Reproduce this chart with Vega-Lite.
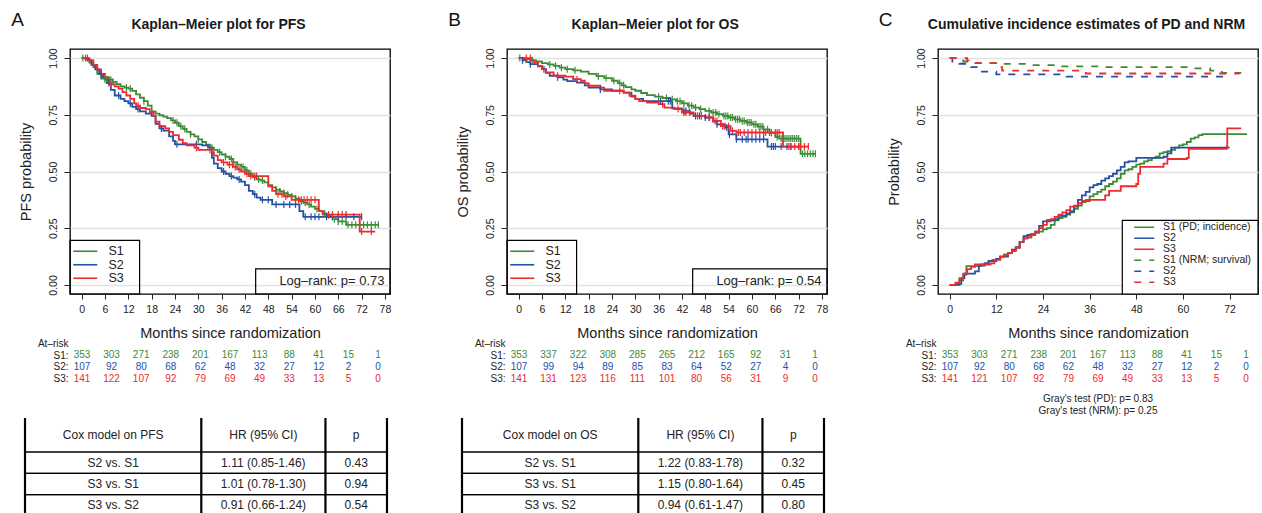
{
  "$schema": "https://vega.github.io/schema/vega-lite/v6.json",
  "padding": {"left": 10, "top": 10, "right": 4, "bottom": 4},
  "columns": 3,
  "spacing": {"row": 32.5, "column": 111},
  "bounds": "flush",
  "align": "each",
  "resolve": {
    "scale": {"x": "independent", "y": "independent", "color": "independent", "strokeDash": "independent"},
    "axis": {"x": "independent", "y": "independent"},
    "legend": {"color": "independent", "strokeDash": "independent"}
  },
  "config": {
    "font": "Liberation Sans",
    "view": {"stroke": "black", "strokeWidth": 1.3},
    "axis": {"labelFont": "Liberation Sans", "titleFont": "Liberation Sans", "labelFontSize": 10.5, "titleFontSize": 14.5, "titleFontWeight": "normal", "labelColor": "#222", "titleColor": "#222", "tickColor": "#222", "domain": false, "labelOverlap": false},
    "legend": {"labelFont": "Liberation Sans"},
    "title": {"font": "Liberation Sans", "color": "#1a1a1a"},
    "text": {"font": "Liberation Sans"}
  },
  "datasets": {
    "pfs": [
      {"g":"S1","t":0,"s":1},{"g":"S1","t":1,"s":0.995},{"g":"S1","t":2,"s":0.98},{"g":"S1","t":3,"s":0.96},{"g":"S1","t":4,"s":0.93},{"g":"S1","t":5,"s":0.91},{"g":"S1","t":6,"s":0.905},{"g":"S1","t":8,"s":0.895},{"g":"S1","t":9,"s":0.885},{"g":"S1","t":10,"s":0.875},{"g":"S1","t":11,"s":0.87},{"g":"S1","t":12,"s":0.865},{"g":"S1","t":13,"s":0.855},{"g":"S1","t":14,"s":0.84},{"g":"S1","t":15,"s":0.825},{"g":"S1","t":16,"s":0.81},{"g":"S1","t":17,"s":0.79},{"g":"S1","t":18,"s":0.765},{"g":"S1","t":19,"s":0.755},{"g":"S1","t":20,"s":0.748},{"g":"S1","t":21,"s":0.742},{"g":"S1","t":22,"s":0.735},{"g":"S1","t":23,"s":0.725},{"g":"S1","t":24,"s":0.715},{"g":"S1","t":25,"s":0.7},{"g":"S1","t":26,"s":0.688},{"g":"S1","t":27,"s":0.675},{"g":"S1","t":28,"s":0.664},{"g":"S1","t":29,"s":0.655},{"g":"S1","t":30,"s":0.642},{"g":"S1","t":31,"s":0.63},{"g":"S1","t":32,"s":0.618},{"g":"S1","t":33,"s":0.605},{"g":"S1","t":34,"s":0.595},{"g":"S1","t":35,"s":0.585},{"g":"S1","t":36,"s":0.575},{"g":"S1","t":37,"s":0.565},{"g":"S1","t":38,"s":0.555},{"g":"S1","t":39,"s":0.54},{"g":"S1","t":40,"s":0.53},{"g":"S1","t":41,"s":0.52},{"g":"S1","t":42,"s":0.505},{"g":"S1","t":43,"s":0.49},{"g":"S1","t":44,"s":0.475},{"g":"S1","t":45,"s":0.465},{"g":"S1","t":46,"s":0.46},{"g":"S1","t":47,"s":0.452},{"g":"S1","t":48,"s":0.44},{"g":"S1","t":49,"s":0.43},{"g":"S1","t":50,"s":0.42},{"g":"S1","t":51,"s":0.412},{"g":"S1","t":52,"s":0.405},{"g":"S1","t":53,"s":0.397},{"g":"S1","t":54,"s":0.39},{"g":"S1","t":55,"s":0.38},{"g":"S1","t":56,"s":0.37},{"g":"S1","t":57,"s":0.362},{"g":"S1","t":58,"s":0.355},{"g":"S1","t":59,"s":0.345},{"g":"S1","t":60,"s":0.335},{"g":"S1","t":61,"s":0.325},{"g":"S1","t":62,"s":0.315},{"g":"S1","t":63,"s":0.307},{"g":"S1","t":64,"s":0.3},{"g":"S1","t":65,"s":0.29},{"g":"S1","t":66,"s":0.28},{"g":"S1","t":68,"s":0.265},{"g":"S1","t":76.5,"s":0.265},
      {"g":"S2","t":0,"s":1},{"g":"S2","t":1.5,"s":0.99},{"g":"S2","t":2.5,"s":0.97},{"g":"S2","t":3.5,"s":0.95},{"g":"S2","t":4.5,"s":0.93},{"g":"S2","t":5.5,"s":0.915},{"g":"S2","t":6.5,"s":0.89},{"g":"S2","t":7.5,"s":0.86},{"g":"S2","t":8.5,"s":0.835},{"g":"S2","t":10,"s":0.82},{"g":"S2","t":11,"s":0.81},{"g":"S2","t":12,"s":0.8},{"g":"S2","t":13,"s":0.785},{"g":"S2","t":14,"s":0.775},{"g":"S2","t":15,"s":0.765},{"g":"S2","t":16.5,"s":0.755},{"g":"S2","t":18,"s":0.745},{"g":"S2","t":19,"s":0.71},{"g":"S2","t":20,"s":0.69},{"g":"S2","t":21,"s":0.68},{"g":"S2","t":22.5,"s":0.655},{"g":"S2","t":23.5,"s":0.635},{"g":"S2","t":24,"s":0.62},{"g":"S2","t":31,"s":0.615},{"g":"S2","t":32.5,"s":0.605},{"g":"S2","t":33.5,"s":0.56},{"g":"S2","t":34,"s":0.535},{"g":"S2","t":35,"s":0.515},{"g":"S2","t":36,"s":0.5},{"g":"S2","t":37,"s":0.49},{"g":"S2","t":38,"s":0.48},{"g":"S2","t":39,"s":0.473},{"g":"S2","t":40,"s":0.465},{"g":"S2","t":41,"s":0.455},{"g":"S2","t":42,"s":0.44},{"g":"S2","t":43,"s":0.415},{"g":"S2","t":44,"s":0.4},{"g":"S2","t":45,"s":0.385},{"g":"S2","t":46,"s":0.375},{"g":"S2","t":49,"s":0.355},{"g":"S2","t":56,"s":0.325},{"g":"S2","t":57,"s":0.3},{"g":"S2","t":72,"s":0.3},
      {"g":"S3","t":0,"s":1},{"g":"S3","t":2,"s":0.99},{"g":"S3","t":3,"s":0.97},{"g":"S3","t":4,"s":0.95},{"g":"S3","t":5,"s":0.93},{"g":"S3","t":6,"s":0.915},{"g":"S3","t":7,"s":0.885},{"g":"S3","t":8.5,"s":0.875},{"g":"S3","t":9.5,"s":0.865},{"g":"S3","t":10.5,"s":0.85},{"g":"S3","t":11.5,"s":0.835},{"g":"S3","t":12.5,"s":0.82},{"g":"S3","t":13.5,"s":0.8},{"g":"S3","t":14,"s":0.79},{"g":"S3","t":15,"s":0.78},{"g":"S3","t":16.5,"s":0.775},{"g":"S3","t":17.5,"s":0.76},{"g":"S3","t":18.5,"s":0.745},{"g":"S3","t":19,"s":0.72},{"g":"S3","t":20,"s":0.7},{"g":"S3","t":21.5,"s":0.69},{"g":"S3","t":22.5,"s":0.675},{"g":"S3","t":23.5,"s":0.66},{"g":"S3","t":25,"s":0.64},{"g":"S3","t":26,"s":0.625},{"g":"S3","t":27,"s":0.615},{"g":"S3","t":29,"s":0.605},{"g":"S3","t":30,"s":0.595},{"g":"S3","t":33.5,"s":0.585},{"g":"S3","t":34,"s":0.57},{"g":"S3","t":35,"s":0.55},{"g":"S3","t":36,"s":0.54},{"g":"S3","t":37.5,"s":0.53},{"g":"S3","t":39,"s":0.52},{"g":"S3","t":40,"s":0.51},{"g":"S3","t":41,"s":0.5},{"g":"S3","t":42,"s":0.49},{"g":"S3","t":43,"s":0.48},{"g":"S3","t":48,"s":0.435},{"g":"S3","t":49,"s":0.415},{"g":"S3","t":50,"s":0.4},{"g":"S3","t":52,"s":0.39},{"g":"S3","t":54,"s":0.375},{"g":"S3","t":61,"s":0.325},{"g":"S3","t":62,"s":0.31},{"g":"S3","t":71.5,"s":0.235},{"g":"S3","t":75.5,"s":0.235}
    ],
    "pfs_cens": [
      {"g":"S1","t":0.3,"s":1},{"g":"S1","t":6,"s":0.905},{"g":"S1","t":6.5,"s":0.905},{"g":"S1","t":7,"s":0.905},{"g":"S1","t":7.5,"s":0.905},{"g":"S1","t":8,"s":0.895},{"g":"S1","t":11.5,"s":0.87},{"g":"S1","t":12.5,"s":0.865},{"g":"S1","t":16,"s":0.81},{"g":"S1","t":23.5,"s":0.725},{"g":"S1","t":24.5,"s":0.715},{"g":"S1","t":25.5,"s":0.7},{"g":"S1","t":26.5,"s":0.688},{"g":"S1","t":28,"s":0.664},{"g":"S1","t":30,"s":0.642},{"g":"S1","t":33.5,"s":0.605},{"g":"S1","t":35.5,"s":0.585},{"g":"S1","t":37,"s":0.565},{"g":"S1","t":38.5,"s":0.555},{"g":"S1","t":40,"s":0.53},{"g":"S1","t":41.5,"s":0.52},{"g":"S1","t":42.5,"s":0.505},{"g":"S1","t":43.5,"s":0.49},{"g":"S1","t":44.5,"s":0.475},{"g":"S1","t":45.5,"s":0.465},{"g":"S1","t":46.5,"s":0.46},{"g":"S1","t":50,"s":0.42},{"g":"S1","t":51,"s":0.412},{"g":"S1","t":52,"s":0.405},{"g":"S1","t":53,"s":0.397},{"g":"S1","t":54,"s":0.39},{"g":"S1","t":55,"s":0.38},{"g":"S1","t":56.5,"s":0.37},{"g":"S1","t":57.5,"s":0.362},{"g":"S1","t":58.5,"s":0.355},{"g":"S1","t":60.5,"s":0.335},{"g":"S1","t":62.5,"s":0.315},{"g":"S1","t":63.5,"s":0.307},{"g":"S1","t":64.5,"s":0.3},{"g":"S1","t":65,"s":0.29},{"g":"S1","t":66,"s":0.28},{"g":"S1","t":67,"s":0.28},{"g":"S1","t":68.5,"s":0.265},{"g":"S1","t":69.5,"s":0.265},{"g":"S1","t":70.5,"s":0.265},{"g":"S1","t":71.5,"s":0.265},{"g":"S1","t":72.5,"s":0.265},{"g":"S1","t":73.5,"s":0.265},{"g":"S1","t":74.5,"s":0.265},{"g":"S1","t":75.5,"s":0.265},{"g":"S1","t":76.3,"s":0.265},
      {"g":"S2","t":5,"s":0.93},{"g":"S2","t":7,"s":0.89},{"g":"S2","t":9.5,"s":0.835},{"g":"S2","t":12.5,"s":0.8},{"g":"S2","t":14.5,"s":0.775},{"g":"S2","t":20.5,"s":0.69},{"g":"S2","t":24.5,"s":0.62},{"g":"S2","t":29.5,"s":0.62},{"g":"S2","t":36.5,"s":0.5},{"g":"S2","t":38.5,"s":0.48},{"g":"S2","t":40.5,"s":0.465},{"g":"S2","t":44.5,"s":0.4},{"g":"S2","t":46.5,"s":0.375},{"g":"S2","t":48,"s":0.375},{"g":"S2","t":50,"s":0.355},{"g":"S2","t":52,"s":0.355},{"g":"S2","t":53.5,"s":0.355},{"g":"S2","t":55,"s":0.355},{"g":"S2","t":57.5,"s":0.3},{"g":"S2","t":59,"s":0.3},{"g":"S2","t":60,"s":0.3},{"g":"S2","t":61,"s":0.3},{"g":"S2","t":63,"s":0.3},{"g":"S2","t":64.5,"s":0.3},{"g":"S2","t":66,"s":0.3},{"g":"S2","t":68,"s":0.3},{"g":"S2","t":70,"s":0.3},{"g":"S2","t":72,"s":0.3},
      {"g":"S3","t":1,"s":1},{"g":"S3","t":1.5,"s":1},{"g":"S3","t":7.5,"s":0.885},{"g":"S3","t":14.5,"s":0.79},{"g":"S3","t":29.5,"s":0.605},{"g":"S3","t":33,"s":0.595},{"g":"S3","t":36.5,"s":0.54},{"g":"S3","t":38,"s":0.53},{"g":"S3","t":38.8,"s":0.53},{"g":"S3","t":39.5,"s":0.52},{"g":"S3","t":40.5,"s":0.51},{"g":"S3","t":42.5,"s":0.49},{"g":"S3","t":43.5,"s":0.48},{"g":"S3","t":44.5,"s":0.48},{"g":"S3","t":45,"s":0.48},{"g":"S3","t":50.5,"s":0.4},{"g":"S3","t":51.5,"s":0.4},{"g":"S3","t":52.5,"s":0.39},{"g":"S3","t":55,"s":0.375},{"g":"S3","t":55.8,"s":0.375},{"g":"S3","t":56.5,"s":0.375},{"g":"S3","t":57.2,"s":0.375},{"g":"S3","t":58,"s":0.375},{"g":"S3","t":59,"s":0.375},{"g":"S3","t":60,"s":0.375},{"g":"S3","t":63.5,"s":0.31},{"g":"S3","t":64.5,"s":0.31},{"g":"S3","t":66,"s":0.31},{"g":"S3","t":67,"s":0.31},{"g":"S3","t":68,"s":0.31},{"g":"S3","t":72,"s":0.235},{"g":"S3","t":74.5,"s":0.235}
    ],
    "os": [
      {"g":"S1","t":0,"s":1},{"g":"S1","t":1.5,"s":0.995},{"g":"S1","t":3,"s":0.99},{"g":"S1","t":4.5,"s":0.985},{"g":"S1","t":6,"s":0.978},{"g":"S1","t":7.5,"s":0.972},{"g":"S1","t":9,"s":0.966},{"g":"S1","t":10.5,"s":0.958},{"g":"S1","t":12,"s":0.951},{"g":"S1","t":14,"s":0.946},{"g":"S1","t":16,"s":0.94},{"g":"S1","t":18,"s":0.93},{"g":"S1","t":20,"s":0.92},{"g":"S1","t":22,"s":0.912},{"g":"S1","t":24,"s":0.9},{"g":"S1","t":25.5,"s":0.89},{"g":"S1","t":26.5,"s":0.88},{"g":"S1","t":27.5,"s":0.872},{"g":"S1","t":29,"s":0.862},{"g":"S1","t":30,"s":0.856},{"g":"S1","t":31.5,"s":0.846},{"g":"S1","t":33,"s":0.837},{"g":"S1","t":35,"s":0.83},{"g":"S1","t":37,"s":0.824},{"g":"S1","t":39,"s":0.818},{"g":"S1","t":40.5,"s":0.81},{"g":"S1","t":42,"s":0.8},{"g":"S1","t":43.5,"s":0.79},{"g":"S1","t":45,"s":0.782},{"g":"S1","t":46.5,"s":0.775},{"g":"S1","t":48,"s":0.767},{"g":"S1","t":49.5,"s":0.76},{"g":"S1","t":51,"s":0.753},{"g":"S1","t":52.5,"s":0.745},{"g":"S1","t":54,"s":0.738},{"g":"S1","t":55.5,"s":0.73},{"g":"S1","t":57,"s":0.723},{"g":"S1","t":58.5,"s":0.716},{"g":"S1","t":60,"s":0.708},{"g":"S1","t":61.5,"s":0.698},{"g":"S1","t":63,"s":0.686},{"g":"S1","t":64.5,"s":0.67},{"g":"S1","t":66,"s":0.652},{"g":"S1","t":67,"s":0.645},{"g":"S1","t":72.5,"s":0.578},{"g":"S1","t":76.5,"s":0.578},
      {"g":"S2","t":0,"s":1},{"g":"S2","t":1,"s":0.99},{"g":"S2","t":2,"s":0.982},{"g":"S2","t":3,"s":0.973},{"g":"S2","t":5,"s":0.963},{"g":"S2","t":6,"s":0.951},{"g":"S2","t":7,"s":0.935},{"g":"S2","t":8,"s":0.922},{"g":"S2","t":10,"s":0.915},{"g":"S2","t":11.5,"s":0.905},{"g":"S2","t":12.5,"s":0.898},{"g":"S2","t":15,"s":0.892},{"g":"S2","t":17,"s":0.88},{"g":"S2","t":18,"s":0.87},{"g":"S2","t":21,"s":0.862},{"g":"S2","t":24,"s":0.856},{"g":"S2","t":27,"s":0.848},{"g":"S2","t":29,"s":0.83},{"g":"S2","t":30,"s":0.82},{"g":"S2","t":32,"s":0.81},{"g":"S2","t":39.5,"s":0.778},{"g":"S2","t":42,"s":0.767},{"g":"S2","t":44,"s":0.755},{"g":"S2","t":45,"s":0.745},{"g":"S2","t":48,"s":0.738},{"g":"S2","t":50,"s":0.72},{"g":"S2","t":51,"s":0.708},{"g":"S2","t":53,"s":0.694},{"g":"S2","t":54,"s":0.664},{"g":"S2","t":56,"s":0.642},{"g":"S2","t":64,"s":0.61},{"g":"S2","t":72,"s":0.61},
      {"g":"S3","t":0,"s":1},{"g":"S3","t":3.5,"s":0.99},{"g":"S3","t":4,"s":0.98},{"g":"S3","t":5,"s":0.966},{"g":"S3","t":6,"s":0.951},{"g":"S3","t":7,"s":0.937},{"g":"S3","t":9,"s":0.922},{"g":"S3","t":12,"s":0.918},{"g":"S3","t":14,"s":0.907},{"g":"S3","t":16,"s":0.9},{"g":"S3","t":17,"s":0.89},{"g":"S3","t":18,"s":0.878},{"g":"S3","t":21,"s":0.87},{"g":"S3","t":22,"s":0.856},{"g":"S3","t":27,"s":0.848},{"g":"S3","t":28.5,"s":0.834},{"g":"S3","t":30,"s":0.82},{"g":"S3","t":31,"s":0.81},{"g":"S3","t":33,"s":0.804},{"g":"S3","t":36,"s":0.797},{"g":"S3","t":37.5,"s":0.782},{"g":"S3","t":40,"s":0.775},{"g":"S3","t":42,"s":0.76},{"g":"S3","t":45,"s":0.745},{"g":"S3","t":48,"s":0.738},{"g":"S3","t":50,"s":0.723},{"g":"S3","t":52,"s":0.7},{"g":"S3","t":54.5,"s":0.679},{"g":"S3","t":56,"s":0.672},{"g":"S3","t":68,"s":0.61},{"g":"S3","t":74.5,"s":0.61}
    ],
    "os_cens": [
      {"g":"S1","t":0.3,"s":1},{"g":"S1","t":2,"s":0.995},{"g":"S1","t":3.5,"s":0.99},{"g":"S1","t":8,"s":0.972},{"g":"S1","t":9.5,"s":0.966},{"g":"S1","t":11,"s":0.958},{"g":"S1","t":12.5,"s":0.951},{"g":"S1","t":14.5,"s":0.946},{"g":"S1","t":20.5,"s":0.92},{"g":"S1","t":22.5,"s":0.912},{"g":"S1","t":24.5,"s":0.9},{"g":"S1","t":26,"s":0.89},{"g":"S1","t":27,"s":0.88},{"g":"S1","t":36,"s":0.83},{"g":"S1","t":38,"s":0.824},{"g":"S1","t":39.5,"s":0.818},{"g":"S1","t":40.8,"s":0.81},{"g":"S1","t":41.5,"s":0.81},{"g":"S1","t":42.5,"s":0.8},{"g":"S1","t":43.8,"s":0.79},{"g":"S1","t":44.5,"s":0.79},{"g":"S1","t":45.5,"s":0.782},{"g":"S1","t":46.8,"s":0.775},{"g":"S1","t":49,"s":0.767},{"g":"S1","t":50,"s":0.76},{"g":"S1","t":50.7,"s":0.76},{"g":"S1","t":51.5,"s":0.753},{"g":"S1","t":52.8,"s":0.745},{"g":"S1","t":53.3,"s":0.745},{"g":"S1","t":53.8,"s":0.745},{"g":"S1","t":54.5,"s":0.738},{"g":"S1","t":55,"s":0.738},{"g":"S1","t":55.8,"s":0.73},{"g":"S1","t":56.3,"s":0.73},{"g":"S1","t":56.8,"s":0.73},{"g":"S1","t":57.5,"s":0.723},{"g":"S1","t":58,"s":0.723},{"g":"S1","t":58.8,"s":0.716},{"g":"S1","t":59.3,"s":0.716},{"g":"S1","t":59.8,"s":0.716},{"g":"S1","t":60.5,"s":0.708},{"g":"S1","t":61,"s":0.708},{"g":"S1","t":61.8,"s":0.698},{"g":"S1","t":62.3,"s":0.698},{"g":"S1","t":62.8,"s":0.698},{"g":"S1","t":64,"s":0.686},{"g":"S1","t":65,"s":0.67},{"g":"S1","t":66.5,"s":0.652},{"g":"S1","t":67.5,"s":0.645},{"g":"S1","t":68,"s":0.645},{"g":"S1","t":68.5,"s":0.645},{"g":"S1","t":69,"s":0.645},{"g":"S1","t":69.5,"s":0.645},{"g":"S1","t":70,"s":0.645},{"g":"S1","t":70.5,"s":0.645},{"g":"S1","t":71,"s":0.645},{"g":"S1","t":71.5,"s":0.645},{"g":"S1","t":72,"s":0.645},{"g":"S1","t":73,"s":0.578},{"g":"S1","t":73.6,"s":0.578},{"g":"S1","t":74.3,"s":0.578},{"g":"S1","t":75,"s":0.578},{"g":"S1","t":75.7,"s":0.578},{"g":"S1","t":76.3,"s":0.578},
      {"g":"S2","t":1,"s":0.99},{"g":"S2","t":3,"s":0.973},{"g":"S2","t":6.5,"s":0.951},{"g":"S2","t":10,"s":0.915},{"g":"S2","t":21,"s":0.862},{"g":"S2","t":36.5,"s":0.81},{"g":"S2","t":38.5,"s":0.81},{"g":"S2","t":39,"s":0.81},{"g":"S2","t":42.5,"s":0.767},{"g":"S2","t":43,"s":0.767},{"g":"S2","t":45.5,"s":0.745},{"g":"S2","t":46.5,"s":0.745},{"g":"S2","t":47,"s":0.745},{"g":"S2","t":48,"s":0.738},{"g":"S2","t":49,"s":0.738},{"g":"S2","t":51,"s":0.708},{"g":"S2","t":53.5,"s":0.694},{"g":"S2","t":54.2,"s":0.664},{"g":"S2","t":56,"s":0.642},{"g":"S2","t":57.5,"s":0.642},{"g":"S2","t":58.5,"s":0.642},{"g":"S2","t":59,"s":0.642},{"g":"S2","t":60,"s":0.642},{"g":"S2","t":61,"s":0.642},{"g":"S2","t":62,"s":0.642},{"g":"S2","t":63,"s":0.642},{"g":"S2","t":65,"s":0.61},{"g":"S2","t":65.5,"s":0.61},{"g":"S2","t":66,"s":0.61},{"g":"S2","t":67.5,"s":0.61},{"g":"S2","t":69,"s":0.61},{"g":"S2","t":70,"s":0.61},{"g":"S2","t":72,"s":0.61},
      {"g":"S3","t":2,"s":1},{"g":"S3","t":3,"s":1},{"g":"S3","t":10,"s":0.922},{"g":"S3","t":15,"s":0.907},{"g":"S3","t":26,"s":0.856},{"g":"S3","t":37,"s":0.797},{"g":"S3","t":41,"s":0.775},{"g":"S3","t":42.5,"s":0.76},{"g":"S3","t":43,"s":0.76},{"g":"S3","t":44,"s":0.76},{"g":"S3","t":46,"s":0.745},{"g":"S3","t":47,"s":0.745},{"g":"S3","t":49,"s":0.738},{"g":"S3","t":50.5,"s":0.723},{"g":"S3","t":51,"s":0.723},{"g":"S3","t":52.5,"s":0.7},{"g":"S3","t":53,"s":0.7},{"g":"S3","t":54,"s":0.7},{"g":"S3","t":55,"s":0.679},{"g":"S3","t":56.5,"s":0.672},{"g":"S3","t":57,"s":0.672},{"g":"S3","t":58,"s":0.672},{"g":"S3","t":59,"s":0.672},{"g":"S3","t":60,"s":0.672},{"g":"S3","t":61,"s":0.672},{"g":"S3","t":62,"s":0.672},{"g":"S3","t":63,"s":0.672},{"g":"S3","t":63.5,"s":0.672},{"g":"S3","t":64.5,"s":0.672},{"g":"S3","t":65,"s":0.672},{"g":"S3","t":66,"s":0.672},{"g":"S3","t":66.5,"s":0.672},{"g":"S3","t":67,"s":0.672},{"g":"S3","t":69.5,"s":0.61},{"g":"S3","t":70,"s":0.61},{"g":"S3","t":71,"s":0.61},{"g":"S3","t":72,"s":0.61},{"g":"S3","t":72.5,"s":0.61},{"g":"S3","t":73.5,"s":0.61},{"g":"S3","t":74.5,"s":0.61}
    ],
    "cif": [
      {"k":"S1 (PD; incidence)","t":0,"p":0},{"k":"S1 (PD; incidence)","t":1.5,"p":0.005},{"k":"S1 (PD; incidence)","t":2.5,"p":0.02},{"k":"S1 (PD; incidence)","t":3.5,"p":0.045},{"k":"S1 (PD; incidence)","t":4.3,"p":0.083},{"k":"S1 (PD; incidence)","t":8,"p":0.09},{"k":"S1 (PD; incidence)","t":9,"p":0.095},{"k":"S1 (PD; incidence)","t":10,"p":0.105},{"k":"S1 (PD; incidence)","t":11,"p":0.11},{"k":"S1 (PD; incidence)","t":12,"p":0.115},{"k":"S1 (PD; incidence)","t":13,"p":0.125},{"k":"S1 (PD; incidence)","t":14,"p":0.135},{"k":"S1 (PD; incidence)","t":15,"p":0.14},{"k":"S1 (PD; incidence)","t":16,"p":0.15},{"k":"S1 (PD; incidence)","t":17,"p":0.165},{"k":"S1 (PD; incidence)","t":18,"p":0.19},{"k":"S1 (PD; incidence)","t":19,"p":0.205},{"k":"S1 (PD; incidence)","t":20,"p":0.21},{"k":"S1 (PD; incidence)","t":21,"p":0.22},{"k":"S1 (PD; incidence)","t":22,"p":0.23},{"k":"S1 (PD; incidence)","t":23,"p":0.235},{"k":"S1 (PD; incidence)","t":24,"p":0.245},{"k":"S1 (PD; incidence)","t":25,"p":0.25},{"k":"S1 (PD; incidence)","t":26,"p":0.265},{"k":"S1 (PD; incidence)","t":27,"p":0.285},{"k":"S1 (PD; incidence)","t":28,"p":0.295},{"k":"S1 (PD; incidence)","t":29,"p":0.3},{"k":"S1 (PD; incidence)","t":30,"p":0.31},{"k":"S1 (PD; incidence)","t":31,"p":0.32},{"k":"S1 (PD; incidence)","t":32,"p":0.335},{"k":"S1 (PD; incidence)","t":33,"p":0.35},{"k":"S1 (PD; incidence)","t":34,"p":0.365},{"k":"S1 (PD; incidence)","t":35,"p":0.375},{"k":"S1 (PD; incidence)","t":36,"p":0.39},{"k":"S1 (PD; incidence)","t":37,"p":0.4},{"k":"S1 (PD; incidence)","t":38,"p":0.41},{"k":"S1 (PD; incidence)","t":39,"p":0.42},{"k":"S1 (PD; incidence)","t":40,"p":0.435},{"k":"S1 (PD; incidence)","t":41,"p":0.445},{"k":"S1 (PD; incidence)","t":42,"p":0.455},{"k":"S1 (PD; incidence)","t":43,"p":0.47},{"k":"S1 (PD; incidence)","t":44,"p":0.49},{"k":"S1 (PD; incidence)","t":45,"p":0.505},{"k":"S1 (PD; incidence)","t":46,"p":0.51},{"k":"S1 (PD; incidence)","t":47,"p":0.52},{"k":"S1 (PD; incidence)","t":48,"p":0.53},{"k":"S1 (PD; incidence)","t":49,"p":0.535},{"k":"S1 (PD; incidence)","t":50,"p":0.545},{"k":"S1 (PD; incidence)","t":51,"p":0.55},{"k":"S1 (PD; incidence)","t":52,"p":0.56},{"k":"S1 (PD; incidence)","t":53,"p":0.565},{"k":"S1 (PD; incidence)","t":54,"p":0.58},{"k":"S1 (PD; incidence)","t":55,"p":0.585},{"k":"S1 (PD; incidence)","t":56,"p":0.59},{"k":"S1 (PD; incidence)","t":57,"p":0.595},{"k":"S1 (PD; incidence)","t":58,"p":0.605},{"k":"S1 (PD; incidence)","t":59,"p":0.615},{"k":"S1 (PD; incidence)","t":60,"p":0.62},{"k":"S1 (PD; incidence)","t":61,"p":0.63},{"k":"S1 (PD; incidence)","t":62,"p":0.645},{"k":"S1 (PD; incidence)","t":63,"p":0.65},{"k":"S1 (PD; incidence)","t":64,"p":0.66},{"k":"S1 (PD; incidence)","t":65,"p":0.665},{"k":"S1 (PD; incidence)","t":76.5,"p":0.665},
      {"k":"S2 (PD)","t":0,"p":0},{"k":"S2 (PD)","t":2.5,"p":0.005},{"k":"S2 (PD)","t":3,"p":0.03},{"k":"S2 (PD)","t":3.8,"p":0.05},{"k":"S2 (PD)","t":6.5,"p":0.06},{"k":"S2 (PD)","t":7.5,"p":0.085},{"k":"S2 (PD)","t":9,"p":0.095},{"k":"S2 (PD)","t":10,"p":0.105},{"k":"S2 (PD)","t":12,"p":0.115},{"k":"S2 (PD)","t":13,"p":0.125},{"k":"S2 (PD)","t":15,"p":0.14},{"k":"S2 (PD)","t":16,"p":0.155},{"k":"S2 (PD)","t":17,"p":0.165},{"k":"S2 (PD)","t":18,"p":0.19},{"k":"S2 (PD)","t":19,"p":0.215},{"k":"S2 (PD)","t":20,"p":0.22},{"k":"S2 (PD)","t":21,"p":0.225},{"k":"S2 (PD)","t":22,"p":0.235},{"k":"S2 (PD)","t":23,"p":0.26},{"k":"S2 (PD)","t":24,"p":0.28},{"k":"S2 (PD)","t":25,"p":0.285},{"k":"S2 (PD)","t":27,"p":0.29},{"k":"S2 (PD)","t":28,"p":0.305},{"k":"S2 (PD)","t":30,"p":0.315},{"k":"S2 (PD)","t":31,"p":0.325},{"k":"S2 (PD)","t":32,"p":0.345},{"k":"S2 (PD)","t":33,"p":0.375},{"k":"S2 (PD)","t":34,"p":0.395},{"k":"S2 (PD)","t":35,"p":0.41},{"k":"S2 (PD)","t":36,"p":0.43},{"k":"S2 (PD)","t":37,"p":0.44},{"k":"S2 (PD)","t":38,"p":0.445},{"k":"S2 (PD)","t":39,"p":0.46},{"k":"S2 (PD)","t":40,"p":0.47},{"k":"S2 (PD)","t":41,"p":0.48},{"k":"S2 (PD)","t":42,"p":0.49},{"k":"S2 (PD)","t":43,"p":0.505},{"k":"S2 (PD)","t":44,"p":0.52},{"k":"S2 (PD)","t":45,"p":0.54},{"k":"S2 (PD)","t":46,"p":0.545},{"k":"S2 (PD)","t":48,"p":0.56},{"k":"S2 (PD)","t":55,"p":0.565},{"k":"S2 (PD)","t":56,"p":0.58},{"k":"S2 (PD)","t":57,"p":0.605},{"k":"S2 (PD)","t":72,"p":0.605},
      {"k":"S3 (PD)","t":0,"p":0},{"k":"S3 (PD)","t":1.5,"p":0.01},{"k":"S3 (PD)","t":2.5,"p":0.03},{"k":"S3 (PD)","t":3.5,"p":0.05},{"k":"S3 (PD)","t":4.5,"p":0.07},{"k":"S3 (PD)","t":5.5,"p":0.08},{"k":"S3 (PD)","t":6.5,"p":0.09},{"k":"S3 (PD)","t":10.5,"p":0.095},{"k":"S3 (PD)","t":11.5,"p":0.11},{"k":"S3 (PD)","t":13,"p":0.125},{"k":"S3 (PD)","t":14,"p":0.13},{"k":"S3 (PD)","t":15,"p":0.14},{"k":"S3 (PD)","t":16,"p":0.15},{"k":"S3 (PD)","t":17,"p":0.165},{"k":"S3 (PD)","t":18,"p":0.19},{"k":"S3 (PD)","t":19,"p":0.205},{"k":"S3 (PD)","t":20,"p":0.21},{"k":"S3 (PD)","t":21,"p":0.225},{"k":"S3 (PD)","t":22,"p":0.235},{"k":"S3 (PD)","t":23,"p":0.25},{"k":"S3 (PD)","t":24,"p":0.265},{"k":"S3 (PD)","t":25,"p":0.28},{"k":"S3 (PD)","t":26,"p":0.29},{"k":"S3 (PD)","t":27,"p":0.3},{"k":"S3 (PD)","t":28,"p":0.31},{"k":"S3 (PD)","t":29,"p":0.32},{"k":"S3 (PD)","t":30,"p":0.33},{"k":"S3 (PD)","t":31,"p":0.345},{"k":"S3 (PD)","t":32,"p":0.35},{"k":"S3 (PD)","t":33,"p":0.36},{"k":"S3 (PD)","t":34,"p":0.37},{"k":"S3 (PD)","t":36,"p":0.375},{"k":"S3 (PD)","t":40,"p":0.395},{"k":"S3 (PD)","t":41,"p":0.415},{"k":"S3 (PD)","t":44,"p":0.435},{"k":"S3 (PD)","t":48,"p":0.445},{"k":"S3 (PD)","t":48.5,"p":0.49},{"k":"S3 (PD)","t":49,"p":0.52},{"k":"S3 (PD)","t":55,"p":0.535},{"k":"S3 (PD)","t":56,"p":0.555},{"k":"S3 (PD)","t":61,"p":0.56},{"k":"S3 (PD)","t":61.5,"p":0.6},{"k":"S3 (PD)","t":71.3,"p":0.61},{"k":"S3 (PD)","t":71.4,"p":0.69},{"k":"S3 (PD)","t":75,"p":0.69},
      {"k":"S1 (NRM; survival)","t":0,"p":1},{"k":"S1 (NRM; survival)","t":2,"p":0.99},{"k":"S1 (NRM; survival)","t":3.5,"p":0.985},{"k":"S1 (NRM; survival)","t":6,"p":0.978},{"k":"S1 (NRM; survival)","t":12,"p":0.974},{"k":"S1 (NRM; survival)","t":20,"p":0.969},{"k":"S1 (NRM; survival)","t":28,"p":0.963},{"k":"S1 (NRM; survival)","t":40,"p":0.96},{"k":"S1 (NRM; survival)","t":62,"p":0.955},{"k":"S1 (NRM; survival)","t":67,"p":0.945},{"k":"S1 (NRM; survival)","t":70,"p":0.935},{"k":"S1 (NRM; survival)","t":75,"p":0.935},
      {"k":"S2 (NRM)","t":0,"p":1},{"k":"S2 (NRM)","t":0.7,"p":0.985},{"k":"S2 (NRM)","t":2.5,"p":0.975},{"k":"S2 (NRM)","t":5.5,"p":0.96},{"k":"S2 (NRM)","t":8,"p":0.94},{"k":"S2 (NRM)","t":12,"p":0.928},{"k":"S2 (NRM)","t":30,"p":0.918},{"k":"S2 (NRM)","t":72,"p":0.918},
      {"k":"S3 (NRM)","t":0,"p":1},{"k":"S3 (NRM)","t":4.5,"p":0.99},{"k":"S3 (NRM)","t":6,"p":0.978},{"k":"S3 (NRM)","t":12.5,"p":0.96},{"k":"S3 (NRM)","t":13.5,"p":0.945},{"k":"S3 (NRM)","t":35,"p":0.932},{"k":"S3 (NRM)","t":74.5,"p":0.93}
    ],
    "risk_pfs": [
      {"g":"S1:","i":0,"n":353},{"g":"S1:","i":1,"n":303},{"g":"S1:","i":2,"n":271},{"g":"S1:","i":3,"n":238},{"g":"S1:","i":4,"n":201},{"g":"S1:","i":5,"n":167},{"g":"S1:","i":6,"n":113},{"g":"S1:","i":7,"n":88},{"g":"S1:","i":8,"n":41},{"g":"S1:","i":9,"n":15},{"g":"S1:","i":10,"n":1},
      {"g":"S2:","i":0,"n":107},{"g":"S2:","i":1,"n":92},{"g":"S2:","i":2,"n":80},{"g":"S2:","i":3,"n":68},{"g":"S2:","i":4,"n":62},{"g":"S2:","i":5,"n":48},{"g":"S2:","i":6,"n":32},{"g":"S2:","i":7,"n":27},{"g":"S2:","i":8,"n":12},{"g":"S2:","i":9,"n":2},{"g":"S2:","i":10,"n":0},
      {"g":"S3:","i":0,"n":141},{"g":"S3:","i":1,"n":122},{"g":"S3:","i":2,"n":107},{"g":"S3:","i":3,"n":92},{"g":"S3:","i":4,"n":79},{"g":"S3:","i":5,"n":69},{"g":"S3:","i":6,"n":49},{"g":"S3:","i":7,"n":33},{"g":"S3:","i":8,"n":13},{"g":"S3:","i":9,"n":5},{"g":"S3:","i":10,"n":0}
    ],
    "risk_os": [
      {"g":"S1:","i":0,"n":353},{"g":"S1:","i":1,"n":337},{"g":"S1:","i":2,"n":322},{"g":"S1:","i":3,"n":308},{"g":"S1:","i":4,"n":285},{"g":"S1:","i":5,"n":265},{"g":"S1:","i":6,"n":212},{"g":"S1:","i":7,"n":165},{"g":"S1:","i":8,"n":92},{"g":"S1:","i":9,"n":31},{"g":"S1:","i":10,"n":1},
      {"g":"S2:","i":0,"n":107},{"g":"S2:","i":1,"n":99},{"g":"S2:","i":2,"n":94},{"g":"S2:","i":3,"n":89},{"g":"S2:","i":4,"n":85},{"g":"S2:","i":5,"n":83},{"g":"S2:","i":6,"n":64},{"g":"S2:","i":7,"n":52},{"g":"S2:","i":8,"n":27},{"g":"S2:","i":9,"n":4},{"g":"S2:","i":10,"n":0},
      {"g":"S3:","i":0,"n":141},{"g":"S3:","i":1,"n":131},{"g":"S3:","i":2,"n":123},{"g":"S3:","i":3,"n":116},{"g":"S3:","i":4,"n":111},{"g":"S3:","i":5,"n":101},{"g":"S3:","i":6,"n":80},{"g":"S3:","i":7,"n":56},{"g":"S3:","i":8,"n":31},{"g":"S3:","i":9,"n":9},{"g":"S3:","i":10,"n":0}
    ],
    "risk_cif": [
      {"g":"S1:","i":0,"n":353},{"g":"S1:","i":1,"n":303},{"g":"S1:","i":2,"n":271},{"g":"S1:","i":3,"n":238},{"g":"S1:","i":4,"n":201},{"g":"S1:","i":5,"n":167},{"g":"S1:","i":6,"n":113},{"g":"S1:","i":7,"n":88},{"g":"S1:","i":8,"n":41},{"g":"S1:","i":9,"n":15},{"g":"S1:","i":10,"n":1},
      {"g":"S2:","i":0,"n":107},{"g":"S2:","i":1,"n":92},{"g":"S2:","i":2,"n":80},{"g":"S2:","i":3,"n":68},{"g":"S2:","i":4,"n":62},{"g":"S2:","i":5,"n":48},{"g":"S2:","i":6,"n":32},{"g":"S2:","i":7,"n":27},{"g":"S2:","i":8,"n":12},{"g":"S2:","i":9,"n":2},{"g":"S2:","i":10,"n":0},
      {"g":"S3:","i":0,"n":141},{"g":"S3:","i":1,"n":121},{"g":"S3:","i":2,"n":107},{"g":"S3:","i":3,"n":92},{"g":"S3:","i":4,"n":79},{"g":"S3:","i":5,"n":69},{"g":"S3:","i":6,"n":49},{"g":"S3:","i":7,"n":33},{"g":"S3:","i":8,"n":13},{"g":"S3:","i":9,"n":5},{"g":"S3:","i":10,"n":0}
    ],
    "cox_pfs": [
      {"cmp":"S2 vs. S1","hr":"1.11 (0.85-1.46)","p":"0.43"},
      {"cmp":"S3 vs. S1","hr":"1.01 (0.78-1.30)","p":"0.94"},
      {"cmp":"S3 vs. S2","hr":"0.91 (0.66-1.24)","p":"0.54"}
    ],
    "cox_os": [
      {"cmp":"S2 vs. S1","hr":"1.22 (0.83-1.78)","p":"0.32"},
      {"cmp":"S3 vs. S1","hr":"1.15 (0.80-1.64)","p":"0.45"},
      {"cmp":"S3 vs. S2","hr":"0.94 (0.61-1.47)","p":"0.80"}
    ]
  },
  "concat": [
    {
      "width": 320, "height": 245,
      "layer": [
        {"data": {"name": "pfs"}, "mark": {"type": "line", "interpolate": "step-after", "strokeWidth": 1.8},
         "encoding": {
           "x": {"field": "t", "type": "quantitative", "scale": {"domain": [-3, 79.3], "nice": false, "zero": false}, "axis": {"values": [0,6,12,18,24,30,36,42,48,54,60,66,72,78], "tickCount": 30, "title": "Months since randomization", "tickSize": 5, "labelPadding": 5, "titlePadding": 11.5, "labelFlush": false, "labelOverlap": false, "grid": false}},
           "y": {"field": "s", "type": "quantitative", "scale": {"domain": [-0.04, 1.04], "nice": false, "zero": false}, "axis": {"values": [0,0.25,0.5,0.75,1], "tickCount": 10, "format": ".2f", "title": "PFS probability", "tickSize": 6, "labelAngle": -90, "labelAlign": "center", "labelBaseline": "bottom", "labelPadding": 6, "titlePadding": 14.5, "labelOverlap": false, "grid": true, "gridColor": "#e2e2e2", "gridWidth": 1.5}},
           "color": {"field": "g", "type": "nominal", "scale": {"domain": ["S1","S2","S3"], "range": ["#3d8b37","#2451a6","#ed2b2e"]},
             "legend": {"orient": "bottom-left", "offset": 0, "title": null, "padding": 9, "symbolType": "M-2.4,0H2.4", "symbolSize": 100, "symbolStrokeWidth": 1.6, "labelFontSize": 12.5, "labelOffset": 17, "rowPadding": 0.5, "labelColor": "#222"}}
         }},
        {"data": {"name": "pfs_cens"}, "mark": {"type": "rule", "strokeWidth": 1.2, "yOffset": -3.5, "y2Offset": 3.5},
         "encoding": {"x": {"field": "t", "type": "quantitative"}, "y": {"field": "s", "type": "quantitative"}, "y2": {"field": "s"}, "color": {"field": "g", "type": "nominal"}}},
        {"data": {"values": [{}]}, "mark": {"type": "rect", "fill": "transparent", "stroke": "black", "strokeWidth": 1.2},
         "encoding": {"x": {"datum": -3}, "x2": {"datum": 14.9}, "y": {"datum": -0.04}, "y2": {"datum": 0.1966}}},
        {"data": {"values": [{}]}, "mark": {"type": "rect", "fill": "transparent", "stroke": "black", "strokeWidth": 1.2},
         "encoding": {"x": {"datum": 44.75}, "x2": {"datum": 79.3}, "y": {"datum": -0.04}, "y2": {"datum": 0.0707}}},
        {"data": {"values": [{}]}, "mark": {"type": "text", "align": "right", "baseline": "middle", "fontSize": 13, "color": "#222"},
         "encoding": {"x": {"datum": 77.9}, "y": {"datum": 0.016}, "text": {"value": "Log–rank: p= 0.73"}}},
        {"data": {"values": [{}]}, "mark": {"type": "text", "align": "center", "baseline": "alphabetic", "fontSize": 14, "fontWeight": "bold", "color": "#1a1a1a"},
         "encoding": {"x": {"datum": 35.2}, "y": {"datum": 1.13}, "text": {"value": "Kaplan–Meier plot for PFS"}}},
        {"data": {"values": [{}]}, "mark": {"type": "text", "align": "center", "baseline": "alphabetic", "fontSize": 19, "color": "#111"},
         "encoding": {"x": {"datum": -16.5}, "y": {"datum": 1.1414}, "text": {"value": "A"}}}
      ]
    },
    {
      "width": 320, "height": 245,
      "layer": [
        {"data": {"name": "os"}, "mark": {"type": "line", "interpolate": "step-after", "strokeWidth": 1.8},
         "encoding": {
           "x": {"field": "t", "type": "quantitative", "scale": {"domain": [-3, 79.3], "nice": false, "zero": false}, "axis": {"values": [0,6,12,18,24,30,36,42,48,54,60,66,72,78], "tickCount": 30, "title": "Months since randomization", "tickSize": 5, "labelPadding": 5, "titlePadding": 11.5, "labelFlush": false, "labelOverlap": false, "grid": false}},
           "y": {"field": "s", "type": "quantitative", "scale": {"domain": [-0.04, 1.04], "nice": false, "zero": false}, "axis": {"values": [0,0.25,0.5,0.75,1], "tickCount": 10, "format": ".2f", "title": "OS probability", "tickSize": 6, "labelAngle": -90, "labelAlign": "center", "labelBaseline": "bottom", "labelPadding": 6, "titlePadding": 14.5, "labelOverlap": false, "grid": true, "gridColor": "#e2e2e2", "gridWidth": 1.5}},
           "color": {"field": "g", "type": "nominal", "scale": {"domain": ["S1","S2","S3"], "range": ["#3d8b37","#2451a6","#ed2b2e"]},
             "legend": {"orient": "bottom-left", "offset": 0, "title": null, "padding": 9, "symbolType": "M-2.4,0H2.4", "symbolSize": 100, "symbolStrokeWidth": 1.6, "labelFontSize": 12.5, "labelOffset": 17, "rowPadding": 0.5, "labelColor": "#222"}}
         }},
        {"data": {"name": "os_cens"}, "mark": {"type": "rule", "strokeWidth": 1.2, "yOffset": -3.5, "y2Offset": 3.5},
         "encoding": {"x": {"field": "t", "type": "quantitative"}, "y": {"field": "s", "type": "quantitative"}, "y2": {"field": "s"}, "color": {"field": "g", "type": "nominal"}}},
        {"data": {"values": [{}]}, "mark": {"type": "rect", "fill": "transparent", "stroke": "black", "strokeWidth": 1.2},
         "encoding": {"x": {"datum": -3}, "x2": {"datum": 14.9}, "y": {"datum": -0.04}, "y2": {"datum": 0.1966}}},
        {"data": {"values": [{}]}, "mark": {"type": "rect", "fill": "transparent", "stroke": "black", "strokeWidth": 1.2},
         "encoding": {"x": {"datum": 44.75}, "x2": {"datum": 79.3}, "y": {"datum": -0.04}, "y2": {"datum": 0.0707}}},
        {"data": {"values": [{}]}, "mark": {"type": "text", "align": "right", "baseline": "middle", "fontSize": 13, "color": "#222"},
         "encoding": {"x": {"datum": 77.9}, "y": {"datum": 0.016}, "text": {"value": "Log–rank: p= 0.54"}}},
        {"data": {"values": [{}]}, "mark": {"type": "text", "align": "center", "baseline": "alphabetic", "fontSize": 14, "fontWeight": "bold", "color": "#1a1a1a"},
         "encoding": {"x": {"datum": 35.1}, "y": {"datum": 1.13}, "text": {"value": "Kaplan–Meier plot for OS"}}},
        {"data": {"values": [{}]}, "mark": {"type": "text", "align": "center", "baseline": "alphabetic", "fontSize": 19, "color": "#111"},
         "encoding": {"x": {"datum": -16.5}, "y": {"datum": 1.1414}, "text": {"value": "B"}}}
      ]
    },
    {
      "width": 320, "height": 245,
      "layer": [
        {"data": {"name": "cif"}, "mark": {"type": "line", "interpolate": "step-after", "strokeWidth": 1.8},
         "encoding": {
           "x": {"field": "t", "type": "quantitative", "scale": {"domain": [-3, 79.3], "nice": false, "zero": false}, "axis": {"values": [0,12,24,36,48,60,72], "tickCount": 30, "title": "Months since randomization", "tickSize": 5, "labelPadding": 5, "titlePadding": 11.5, "labelFlush": false, "labelOverlap": false, "grid": false}},
           "y": {"field": "p", "type": "quantitative", "scale": {"domain": [-0.04, 1.04], "nice": false, "zero": false}, "axis": {"values": [0,0.25,0.5,0.75,1], "tickCount": 10, "format": ".2f", "title": "Probability", "tickSize": 6, "labelAngle": -90, "labelAlign": "center", "labelBaseline": "bottom", "labelPadding": 6, "titlePadding": 14.5, "labelOverlap": false, "grid": true, "gridColor": "#e2e2e2", "gridWidth": 1.5}},
           "color": {"field": "k", "type": "nominal", "scale": {"domain": ["S1 (PD; incidence)","S2 (PD)","S3 (PD)","S1 (NRM; survival)","S2 (NRM)","S3 (NRM)"], "range": ["#3d8b37","#2451a6","#ed2b2e","#3d8b37","#2451a6","#ed2b2e"]},
             "legend": {"orient": "bottom-right", "offset": 0, "title": null, "padding": 6, "symbolType": "M-2.5,0H2.5", "symbolSize": 64, "symbolStrokeWidth": 1.5, "labelFontSize": 10.5, "labelOffset": 13.5, "rowPadding": 0, "labelColor": "#222", "labelExpr": "indexof(datum.label, 'S1') == 0 ? datum.label : substring(datum.label, 0, 2)"}},
           "strokeDash": {"field": "k", "type": "nominal", "scale": {"domain": ["S1 (PD; incidence)","S2 (PD)","S3 (PD)","S1 (NRM; survival)","S2 (NRM)","S3 (NRM)"], "range": [[1,0],[1,0],[1,0],[7,8],[7,8],[7,8]]},
             "legend": {"orient": "bottom-right", "offset": 0, "title": null, "padding": 6, "symbolType": "M-2.5,0H2.5", "symbolSize": 64, "symbolStrokeWidth": 1.5, "labelFontSize": 10.5, "labelOffset": 13.5, "rowPadding": 0, "labelColor": "#222", "labelExpr": "indexof(datum.label, 'S1') == 0 ? datum.label : substring(datum.label, 0, 2)"}}
         }},
        {"data": {"values": [{}]}, "mark": {"type": "rect", "fill": "white", "stroke": "black", "strokeWidth": 1.2},
         "encoding": {"x": {"datum": 44.4}, "x2": {"datum": 79.3}, "y": {"datum": -0.04}, "y2": {"datum": 0.2848}}},
        {"data": {"values": [{}]}, "mark": {"type": "text", "align": "center", "baseline": "alphabetic", "fontSize": 14, "fontWeight": "bold", "color": "#1a1a1a"},
         "encoding": {"x": {"datum": 35.2}, "y": {"datum": 1.13}, "text": {"value": "Cumulative incidence estimates of PD and NRM"}}},
        {"data": {"values": [{}]}, "mark": {"type": "text", "align": "center", "baseline": "alphabetic", "fontSize": 19, "color": "#111"},
         "encoding": {"x": {"datum": -16.5}, "y": {"datum": 1.1414}, "text": {"value": "C"}}}
      ]
    },
    {
      "width": 320, "height": 59, "view": {"stroke": null},
      "data": {"name": "risk_pfs"},
      "mark": {"type": "text", "fontSize": 10, "baseline": "middle"},
      "encoding": {
        "x": {"field": "i", "type": "ordinal", "scale": {"type": "point", "padding": 0.405}, "axis": null},
        "y": {"field": "g", "type": "nominal", "scale": {"type": "point", "domain": ["At–risk","S1:","S2:","S3:"], "padding": 1, "align": 0.712}, "axis": {"title": null, "ticks": false, "domain": false, "labelPadding": 2, "labelFontSize": 10, "grid": false}},
        "text": {"field": "n"},
        "color": {"field": "g", "type": "nominal", "scale": {"domain": ["S1:","S2:","S3:"], "range": ["#3d8b37","#2451a6","#ed2b2e"]}, "legend": null}
      }
    },
    {
      "width": 320, "height": 59, "view": {"stroke": null},
      "data": {"name": "risk_os"},
      "mark": {"type": "text", "fontSize": 10, "baseline": "middle"},
      "encoding": {
        "x": {"field": "i", "type": "ordinal", "scale": {"type": "point", "padding": 0.405}, "axis": null},
        "y": {"field": "g", "type": "nominal", "scale": {"type": "point", "domain": ["At–risk","S1:","S2:","S3:"], "padding": 1, "align": 0.712}, "axis": {"title": null, "ticks": false, "domain": false, "labelPadding": 2, "labelFontSize": 10, "grid": false}},
        "text": {"field": "n"},
        "color": {"field": "g", "type": "nominal", "scale": {"domain": ["S1:","S2:","S3:"], "range": ["#3d8b37","#2451a6","#ed2b2e"]}, "legend": null}
      }
    },
    {
      "width": 320, "height": 59, "view": {"stroke": null},
      "title": {"text": ["Gray's test (PD): p= 0.83", "Gray's test (NRM): p= 0.25"], "orient": "bottom", "fontSize": 10, "fontWeight": "normal", "lineHeight": 12, "anchor": "middle", "frame": "group", "baseline": "top", "offset": 8, "color": "#222"},
      "data": {"name": "risk_cif"},
      "mark": {"type": "text", "fontSize": 10, "baseline": "middle"},
      "encoding": {
        "x": {"field": "i", "type": "ordinal", "scale": {"type": "point", "padding": 0.405}, "axis": null},
        "y": {"field": "g", "type": "nominal", "scale": {"type": "point", "domain": ["At–risk","S1:","S2:","S3:"], "padding": 1, "align": 0.712}, "axis": {"title": null, "ticks": false, "domain": false, "labelPadding": 2, "labelFontSize": 10, "grid": false}},
        "text": {"field": "n"},
        "color": {"field": "g", "type": "nominal", "scale": {"domain": ["S1:","S2:","S3:"], "range": ["#3d8b37","#2451a6","#ed2b2e"]}, "legend": null}
      }
    },
    {
      "width": 326, "height": 98, "view": {"stroke": null},
      "data": {"name": "cox_pfs"},
      "resolve": {"scale": {"y": "independent"}},
      "layer": [
        {"data": {"values": [{}]}, "mark": {"type": "rule", "strokeWidth": 2.2, "color": "black"}, "encoding": {"x": {"datum": 0, "type": "quantitative", "scale": {"domain": [0.1243, 1.0249], "nice": false, "zero": false}, "axis": null}}},
        {"data": {"values": [{}]}, "mark": {"type": "rule", "strokeWidth": 2.2, "color": "black"}, "encoding": {"x": {"datum": 0.487, "type": "quantitative", "axis": null}}},
        {"data": {"values": [{}]}, "mark": {"type": "rule", "strokeWidth": 2.2, "color": "black"}, "encoding": {"x": {"datum": 0.83, "type": "quantitative", "axis": null}}},
        {"data": {"values": [{}]}, "mark": {"type": "rule", "strokeWidth": 2.2, "color": "black"}, "encoding": {"x": {"datum": 1, "type": "quantitative", "axis": null}}},
        {"mark": {"type": "rule", "strokeWidth": 1.3, "color": "black"}, "encoding": {"x": {"datum": 0, "type": "quantitative", "axis": null}, "x2": {"datum": 1}, "y": {"field": "cmp", "type": "nominal", "bandPosition": 0, "scale": {"type": "band", "domain": ["S2 vs. S1","S3 vs. S1","S3 vs. S2"], "paddingInner": 0, "paddingOuter": 0.797, "align": 1}, "axis": null}}},
        {"mark": {"type": "rule", "strokeWidth": 1.3, "color": "black"}, "encoding": {"x": {"datum": 0, "type": "quantitative", "axis": null}, "x2": {"datum": 1}, "y": {"field": "cmp", "type": "nominal", "bandPosition": 1, "scale": {"type": "band", "domain": ["S2 vs. S1","S3 vs. S1","S3 vs. S2"], "paddingInner": 0, "paddingOuter": 0.797, "align": 1}, "axis": null}}},
        {"mark": {"type": "text", "fontSize": 12, "color": "#222", "baseline": "middle"}, "encoding": {"x": {"datum": 0.2435, "type": "quantitative", "axis": null}, "y": {"field": "cmp", "type": "nominal", "scale": {"type": "band", "domain": ["S2 vs. S1","S3 vs. S1","S3 vs. S2"], "paddingInner": 0, "paddingOuter": 0.797, "align": 1}, "axis": null}, "text": {"field": "cmp"}}},
        {"mark": {"type": "text", "fontSize": 12, "color": "#222", "baseline": "middle"}, "encoding": {"x": {"datum": 0.6585, "type": "quantitative", "axis": null}, "y": {"field": "cmp", "type": "nominal", "scale": {"type": "band", "domain": ["S2 vs. S1","S3 vs. S1","S3 vs. S2"], "paddingInner": 0, "paddingOuter": 0.797, "align": 1}, "axis": null}, "text": {"field": "hr"}}},
        {"mark": {"type": "text", "fontSize": 12, "color": "#222", "baseline": "middle"}, "encoding": {"x": {"datum": 0.915, "type": "quantitative", "axis": null}, "y": {"field": "cmp", "type": "nominal", "scale": {"type": "band", "domain": ["S2 vs. S1","S3 vs. S1","S3 vs. S2"], "paddingInner": 0, "paddingOuter": 0.797, "align": 1}, "axis": null}, "text": {"field": "p"}}},
        {"data": {"values": [{"h": "Cox model on PFS", "hr": "HR (95% CI)", "p": "p"}]}, "mark": {"type": "text", "fontSize": 12, "color": "#222", "baseline": "middle"}, "encoding": {"x": {"datum": 0.2435, "type": "quantitative", "axis": null}, "y": {"field": "h", "type": "nominal", "scale": {"type": "point", "padding": 0, "align": 0.1735}, "axis": null}, "text": {"field": "h"}}},
        {"data": {"values": [{"h": "Cox model on PFS", "hr": "HR (95% CI)", "p": "p"}]}, "mark": {"type": "text", "fontSize": 12, "color": "#222", "baseline": "middle"}, "encoding": {"x": {"datum": 0.6585, "type": "quantitative", "axis": null}, "y": {"field": "h", "type": "nominal", "scale": {"type": "point", "padding": 0, "align": 0.1735}, "axis": null}, "text": {"field": "hr"}}},
        {"data": {"values": [{"h": "Cox model on PFS", "hr": "HR (95% CI)", "p": "p"}]}, "mark": {"type": "text", "fontSize": 12, "color": "#222", "baseline": "middle"}, "encoding": {"x": {"datum": 0.915, "type": "quantitative", "axis": null}, "y": {"field": "h", "type": "nominal", "scale": {"type": "point", "padding": 0, "align": 0.1735}, "axis": null}, "text": {"field": "p"}}}
      ]
    },
    {
      "width": 320, "height": 98, "view": {"stroke": null},
      "data": {"name": "cox_os"},
      "resolve": {"scale": {"y": "independent"}},
      "layer": [
        {"data": {"values": [{}]}, "mark": {"type": "rule", "strokeWidth": 2.2, "color": "black"}, "encoding": {"x": {"datum": 0, "type": "quantitative", "scale": {"domain": [0.1243, 1.0083], "nice": false, "zero": false}, "axis": null}}},
        {"data": {"values": [{}]}, "mark": {"type": "rule", "strokeWidth": 2.2, "color": "black"}, "encoding": {"x": {"datum": 0.487, "type": "quantitative", "axis": null}}},
        {"data": {"values": [{}]}, "mark": {"type": "rule", "strokeWidth": 2.2, "color": "black"}, "encoding": {"x": {"datum": 0.83, "type": "quantitative", "axis": null}}},
        {"data": {"values": [{}]}, "mark": {"type": "rule", "strokeWidth": 2.2, "color": "black"}, "encoding": {"x": {"datum": 1, "type": "quantitative", "axis": null}}},
        {"mark": {"type": "rule", "strokeWidth": 1.3, "color": "black"}, "encoding": {"x": {"datum": 0, "type": "quantitative", "axis": null}, "x2": {"datum": 1}, "y": {"field": "cmp", "type": "nominal", "bandPosition": 0, "scale": {"type": "band", "domain": ["S2 vs. S1","S3 vs. S1","S3 vs. S2"], "paddingInner": 0, "paddingOuter": 0.797, "align": 1}, "axis": null}}},
        {"mark": {"type": "rule", "strokeWidth": 1.3, "color": "black"}, "encoding": {"x": {"datum": 0, "type": "quantitative", "axis": null}, "x2": {"datum": 1}, "y": {"field": "cmp", "type": "nominal", "bandPosition": 1, "scale": {"type": "band", "domain": ["S2 vs. S1","S3 vs. S1","S3 vs. S2"], "paddingInner": 0, "paddingOuter": 0.797, "align": 1}, "axis": null}}},
        {"mark": {"type": "text", "fontSize": 12, "color": "#222", "baseline": "middle"}, "encoding": {"x": {"datum": 0.2435, "type": "quantitative", "axis": null}, "y": {"field": "cmp", "type": "nominal", "scale": {"type": "band", "domain": ["S2 vs. S1","S3 vs. S1","S3 vs. S2"], "paddingInner": 0, "paddingOuter": 0.797, "align": 1}, "axis": null}, "text": {"field": "cmp"}}},
        {"mark": {"type": "text", "fontSize": 12, "color": "#222", "baseline": "middle"}, "encoding": {"x": {"datum": 0.6585, "type": "quantitative", "axis": null}, "y": {"field": "cmp", "type": "nominal", "scale": {"type": "band", "domain": ["S2 vs. S1","S3 vs. S1","S3 vs. S2"], "paddingInner": 0, "paddingOuter": 0.797, "align": 1}, "axis": null}, "text": {"field": "hr"}}},
        {"mark": {"type": "text", "fontSize": 12, "color": "#222", "baseline": "middle"}, "encoding": {"x": {"datum": 0.915, "type": "quantitative", "axis": null}, "y": {"field": "cmp", "type": "nominal", "scale": {"type": "band", "domain": ["S2 vs. S1","S3 vs. S1","S3 vs. S2"], "paddingInner": 0, "paddingOuter": 0.797, "align": 1}, "axis": null}, "text": {"field": "p"}}},
        {"data": {"values": [{"h": "Cox model on OS", "hr": "HR (95% CI)", "p": "p"}]}, "mark": {"type": "text", "fontSize": 12, "color": "#222", "baseline": "middle"}, "encoding": {"x": {"datum": 0.2435, "type": "quantitative", "axis": null}, "y": {"field": "h", "type": "nominal", "scale": {"type": "point", "padding": 0, "align": 0.1735}, "axis": null}, "text": {"field": "h"}}},
        {"data": {"values": [{"h": "Cox model on OS", "hr": "HR (95% CI)", "p": "p"}]}, "mark": {"type": "text", "fontSize": 12, "color": "#222", "baseline": "middle"}, "encoding": {"x": {"datum": 0.6585, "type": "quantitative", "axis": null}, "y": {"field": "h", "type": "nominal", "scale": {"type": "point", "padding": 0, "align": 0.1735}, "axis": null}, "text": {"field": "hr"}}},
        {"data": {"values": [{"h": "Cox model on OS", "hr": "HR (95% CI)", "p": "p"}]}, "mark": {"type": "text", "fontSize": 12, "color": "#222", "baseline": "middle"}, "encoding": {"x": {"datum": 0.915, "type": "quantitative", "axis": null}, "y": {"field": "h", "type": "nominal", "scale": {"type": "point", "padding": 0, "align": 0.1735}, "axis": null}, "text": {"field": "p"}}}
      ]
    }
  ]
}
